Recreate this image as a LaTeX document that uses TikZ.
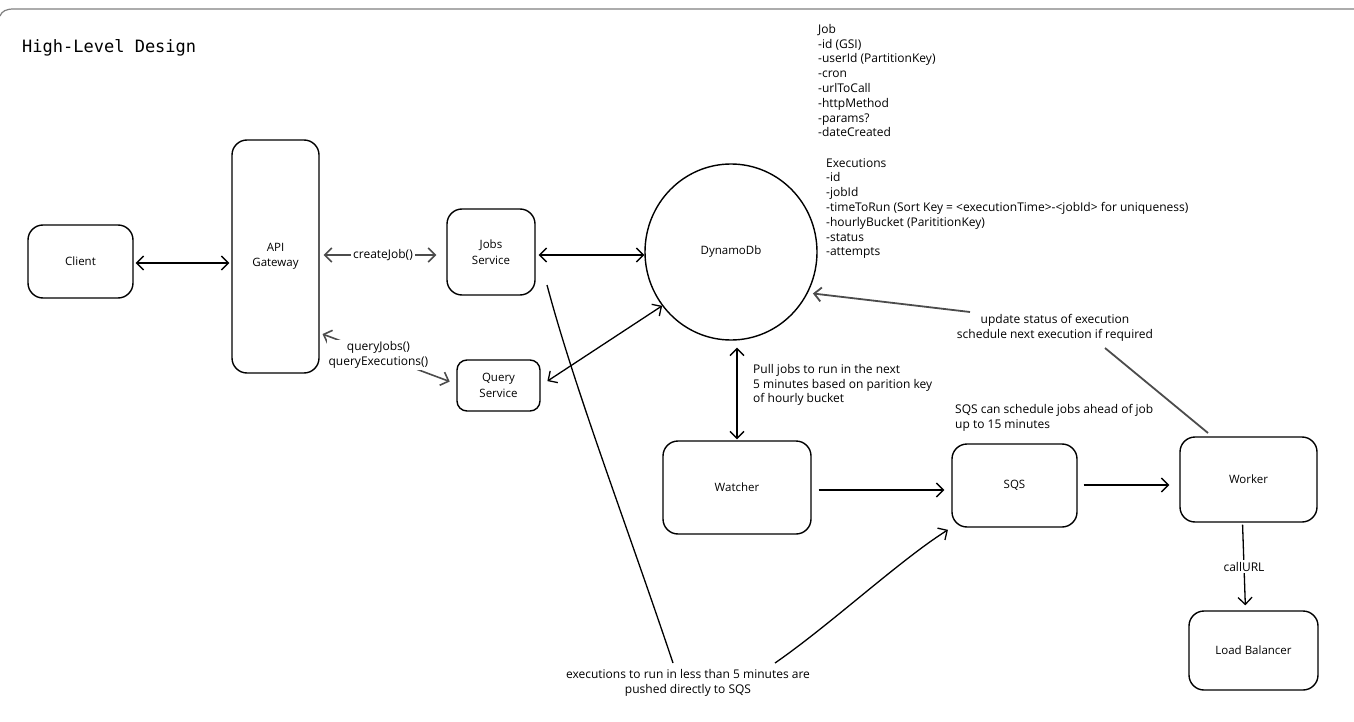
\documentclass[tikz,border=0pt]{standalone}
\usepackage{fontspec}
\setmainfont{Open Sans}
\newfontfamily\titlemono{DejaVu Sans Mono}
\usetikzlibrary{arrows.meta,shapes.geometric}
\newcommand\handtxt{\fontsize{12}{14.8}\selectfont}
\newcommand\boxtxt{\fontsize{11.5}{15.5}\selectfont}
\begin{document}
\begin{tikzpicture}[x=1pt,y=-1pt,
  box/.style={draw, rounded corners=15pt, line width=1.4pt, align=center, inner sep=0pt, font=\boxtxt},
  txt/.style={align=left, inner sep=0pt, font=\handtxt},
  lbl/.style={fill=white, inner sep=2pt, align=center, font=\handtxt},
  ar/.style={line width=1.3pt, -{Straight Barb[length=7pt,width=14pt]}},
  dar/.style={line width=1.3pt, {Straight Barb[length=7pt,width=14pt]}-{Straight Barb[length=7pt,width=14pt]}},
  ln/.style={line width=1.3pt}]
\useasboundingbox (0,0) rectangle (1354,722);
% frame top edge
\draw[gray, line width=1.2pt] (0,16) .. controls (2,11) and (6,9) .. (14,9) -- (1354,9);
\node[anchor=west, inner sep=0pt, font=\titlemono\fontsize{17}{20}\selectfont] (title) at (22,48) {High-Level Design};

% boxes
\node[box, minimum width=105pt, minimum height=73pt] (client) at (80.5,261.5) {Client};
\node[box, minimum width=87pt, minimum height=233pt] (api) at (275.5,256.5) {API\\Gateway};
\node[box, minimum width=88pt, minimum height=86pt] (jobs) at (491,252) {Jobs\\Service};
\node[box, rounded corners=10pt, minimum width=83pt, minimum height=51pt] (query) at (498.5,385.5) {Query\\Service};
\node[draw, ellipse, line width=1.4pt, minimum width=172pt, minimum height=176pt, inner sep=0pt, font=\boxtxt] (dyn) at (731,252) {DynamoDb};
\node[box, minimum width=148pt, minimum height=93pt] (watch) at (737,487.5) {Watcher};
\node[box, minimum width=125pt, minimum height=83pt] (sqs) at (1014.5,485.5) {SQS};
\node[box, minimum width=137pt, minimum height=85pt] (worker) at (1248.5,479.5) {Worker};
\node[box, minimum width=129pt, minimum height=79pt] (lb) at (1253.5,650.5) {Load Balancer};

% texts
\node[txt, anchor=north west] (jobtxt) at (818,24) {Job\\-id (GSI)\\-userId (PartitionKey)\\-cron\\-urlToCall\\-httpMethod\\-params?\\-dateCreated};
\node[txt, anchor=north west] (exectxt) at (826,158) {Executions\\-id\\-jobId\\-timeToRun (Sort Key = <executionTime>-<jobId> for uniqueness)\\-hourlyBucket (ParititionKey)\\-status\\-attempts};
\node[txt, anchor=north west] (pulltxt) at (753,364) {Pull jobs to run in the next\\5 minutes based on parition key\\of hourly bucket};
\node[txt, anchor=north west] (sqstxt) at (955,404) {SQS can schedule jobs ahead of job\\up to 15 minutes};
\node[txt, align=center] (updtxt) at (1055,328) {update status of execution\\schedule next execution if required};
\node[txt, align=center] (bottxt) at (688,683) {executions to run in less than 5 minutes are\\pushed directly to SQS};

% connectors
\draw[dar, shorten <=2pt, shorten >=2pt] (client.east |- 0,263) -- (api.west |- 0,263);
\draw[dar, gray!60!black, line width=1.6pt, shorten <=4pt, shorten >=10pt] (api.east |- 0,255) -- node[lbl, text=black] (cj) {createJob()} (jobs.west |- 0,255);
\draw[dar, shorten <=3pt, shorten >=0pt] (jobs.east |- 0,255) -- (dyn.west |- 0,255);
\draw[dar, gray!60!black, line width=1.6pt, shorten <=3pt, shorten >=7pt] (api.east |- 0,333) -- node[lbl, text=black, pos=0.43] (qj) {queryJobs()\\queryExecutions()} (query.west |- 0,384);
\draw[dar, shorten <=8pt, shorten >=0pt] (query.east) -- (dyn.218);
\draw[dar, shorten <=7pt, shorten >=1pt] (watch.north |- dyn.south) -- (watch.north);
\draw[ar, shorten <=7pt, shorten >=7pt] (watch.east |- 0,490) -- (sqs.west |- 0,490);
\draw[ar, shorten <=6pt, shorten >=10pt] (sqs.east |- 0,485) -- (worker.west |- 0,485);
\draw[ar, shorten <=2pt, shorten >=5pt] ([xshift=-6pt]worker.south) -- node[lbl, pos=0.5] (cu) {callURL} ([xshift=-8pt]lb.north);
% update path
\coordinate (u0) at (1208,433);
\coordinate (u1) at (1105,348);
\coordinate (u2) at (970,312);
\draw[ln, line width=1.8pt, black!70] (u0) -- (u1);
\draw[ar, line width=1.8pt, black!70, shorten >=5pt] (u2) -- (dyn.-28);
% jobs to sqs path
\coordinate (j0) at (547,285);
\coordinate (b1) at (673,663);
\coordinate (b2) at (775,663);
\draw[ln] (j0) .. controls (575,390) and (625,520) .. (b1);
\draw[ar, shorten >=4pt] (b2) .. controls (830,625) and (900,560) .. (sqs.south west);
\end{tikzpicture}
\end{document}
